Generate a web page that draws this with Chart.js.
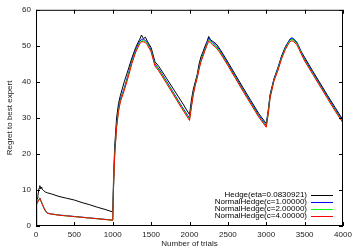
<!DOCTYPE html>
<html>
<head>
<meta charset="utf-8">
<script src="https://cdn.jsdelivr.net/npm/chart.js@4.4.0/dist/chart.umd.min.js"></script>
<style>
  body { margin: 0; background: #fff; }
  #chart { display: block; }
</style>
</head>
<body>
<canvas id="chart" width="357" height="250"></canvas>
<script>
// trials (x) and regret values
const trials = [0,5,10,20,25,40,50,60,75,80,
  100,125,150,200,300,400,500,600,700,800,
  900,1000,1010,1025,1050,1075,1100,1150,1200,1250,
  1300,1350,1375,1400,1425,1450,1500,1550,1600,1700,
  1800,1900,2000,2025,2050,2075,2100,2125,2150,2175,
  2200,2225,2250,2275,2300,2350,2400,2500,2600,2700,
  2800,2900,3000,3025,3050,3100,3150,3200,3250,3300,
  3325,3350,3400,3450,3500,3600,3700,3800,3900,4000];

const hedge = [0,5,7,7.8,8.5,10.5,11.2,10.3,10.8,10.2,
  9.8,9.4,9.2,8.9,8.2,7.7,7.2,6.5,5.9,5.2,
  4.6,3.9,13,22,30,34,36.3,40,43.3,46.7,
  49.6,51.8,53,52,52.4,51.3,49.5,45.6,44.3,41,
  37.7,34.4,30.9,35,38,40,42,45,47,48.3,
  49.8,51,52.6,51.6,51.3,50.5,49,45.5,41.9,38.3,
  34.8,31.3,28.4,32,36.5,40.8,43.8,47.2,49.8,51.4,
  52,51.8,50.8,48.6,46.8,43.2,39.7,36.2,32.8,29.4];

const normalC1 = [0,5.3,6.1,6.7,7,7.4,7.8,7.2,6.5,6.2,
  5.2,4.2,3.6,3.35,3.05,2.85,2.65,2.45,2.25,2.05,
  1.85,1.65,11,20,28,32.5,35.2,38.3,42,45.9,
  49,51.2,51.9,51.8,51.5,50.9,48.9,45,43.6,40.2,
  36.7,33.2,29.9,33.6,37,39.5,41.6,44,46.2,47.6,
  49.2,50.7,52.2,51.5,51,50,48.6,45,41.4,37.8,
  34.3,30.8,27.9,31.5,36,40.7,43.6,47,49.6,51.6,
  52.2,52.1,51,48.6,46.3,42.8,39.3,35.8,32.3,29.1];

const normalC2 = [0,5.2,6.05,6.65,6.95,7.35,7.75,7.15,6.45,6.15,
  5.15,4.15,3.55,3.3,3,2.8,2.6,2.4,2.2,2,
  1.8,1.6,10.7,19.7,27.6,32.1,34.8,37.9,41.6,45.5,
  48.6,50.8,51.5,51.4,51.2,50.6,48.6,44.7,43.3,39.9,
  36.4,32.9,29.6,33.3,36.8,39.2,41.3,43.8,45.9,47.3,
  48.9,50.3,51.7,51.1,50.6,49.7,48.3,44.7,41.1,37.5,
  34,30.5,27.6,31.2,35.7,40.4,43.3,46.7,49.3,51.2,
  51.8,51.7,50.6,48.3,46,42.5,39,35.5,32,28.8];

const normalC4 = [0,5.2,6,6.6,6.9,7.3,7.7,7.1,6.4,6.1,
  5.1,4.1,3.5,3.3,3,2.8,2.6,2.4,2.2,2,
  1.8,1.6,10.5,19.4,27.3,31.8,34.5,37.6,41.2,45.1,
  48.3,50.5,51.2,51.1,50.9,50.3,48.3,44.4,43,39.6,
  36.1,32.6,29.3,33,36.5,39,41,43.5,45.6,47,
  48.6,50,51.3,50.8,50.3,49.4,48,44.5,40.9,37.3,
  33.8,30.3,27.4,31,35.5,40.2,43,46.4,49,50.9,
  51.4,51.3,50.3,48,45.8,42.3,38.8,35.3,31.8,28.6];

const seriesLabels = ['Hedge(eta=0.0830921)', 'NormalHedge(c=1.00000)',
  'NormalHedge(c=2.00000)', 'NormalHedge(c=4.00000)'];
const seriesColors = ['#000000', '#0000ff', '#00ff00', '#ff0000'];
const seriesValues = [hedge, normalC1, normalC2, normalC4];

const FONT = "'Liberation Sans', Arial, sans-serif";

function toPoints(vals) {
  return vals.map((v, i) => ({ x: trials[i], y: v }));
}

// gnuplot style frame, inward ticks on all four sides, and key in the lower right
const framePlugin = {
  id: 'frame',
  afterDraw(chart) {
    const ctx = chart.ctx;
    const a = chart.chartArea;
    const xs = chart.scales.x, ys = chart.scales.y;
    ctx.save();
    ctx.strokeStyle = '#000';
    ctx.lineWidth = 1;
    ctx.strokeRect(a.left + 0.5, a.top + 0.5, a.right - a.left - 1, a.bottom - a.top - 1);
    ctx.beginPath();
    xs.ticks.forEach(t => {
      const px = Math.round(xs.getPixelForValue(t.value)) + 0.5;
      ctx.moveTo(px, a.bottom); ctx.lineTo(px, a.bottom - 4);
      ctx.moveTo(px, a.top); ctx.lineTo(px, a.top + 4);
    });
    ys.ticks.forEach(t => {
      const py = Math.round(ys.getPixelForValue(t.value)) + 0.5;
      ctx.moveTo(a.left, py); ctx.lineTo(a.left + 4, py);
      ctx.moveTo(a.right, py); ctx.lineTo(a.right - 4, py);
    });
    ctx.stroke();

    ctx.font = '8px ' + FONT;
    ctx.textAlign = 'right';
    ctx.textBaseline = 'middle';
    chart.data.datasets.forEach((ds, i) => {
      const y = a.bottom - 31 + i * 7;
      ctx.fillStyle = '#000';
      ctx.fillText(ds.label, a.right - 36, y);
      ctx.strokeStyle = ds.borderColor;
      ctx.beginPath();
      ctx.moveTo(a.right - 32, Math.round(y) + 0.5);
      ctx.lineTo(a.right - 10, Math.round(y) + 0.5);
      ctx.stroke();
    });
    ctx.restore();
  }
};

const ctx = document.getElementById('chart').getContext('2d');
new Chart(ctx, {
  type: 'line',
  data: {
    datasets: seriesValues.map((vals, i) => ({
      label: seriesLabels[i],
      data: toPoints(vals),
      borderColor: seriesColors[i],
      borderWidth: 1,
      pointRadius: 0,
      tension: 0,
      fill: false,
      order: 3 - i
    }))
  },
  options: {
    responsive: false,
    animation: false,
    devicePixelRatio: 1,
    layout: { padding: { top: 9, right: 14, left: 0, bottom: 0 } },
    plugins: { legend: { display: false }, tooltip: { enabled: false } },
    scales: {
      x: {
        type: 'linear',
        min: 0, max: 4000,
        grid: { display: false, drawTicks: false },
        border: { display: false },
        ticks: { stepSize: 500, padding: 4, color: '#222', font: { family: FONT, size: 8 }, maxRotation: 0,
          callback: v => String(v) },
        title: { display: true, text: 'Number of trials', color: '#222', font: { family: FONT, size: 8 }, padding: { top: 0, bottom: 1 } },
        afterFit(scale) { scale.height = 24; }
      },
      y: {
        min: 0, max: 60,
        grid: { display: false, drawTicks: false },
        border: { display: false },
        ticks: { stepSize: 10, padding: 5, color: '#222', font: { family: FONT, size: 8 } },
        title: { display: true, text: 'Regret to best expert', color: '#222', font: { family: FONT, size: 8 }, padding: { top: 5, bottom: 0 } },
        afterFit(scale) { scale.width = 36; }
      }
    }
  },
  plugins: [framePlugin]
});
</script>
</body>
</html>
